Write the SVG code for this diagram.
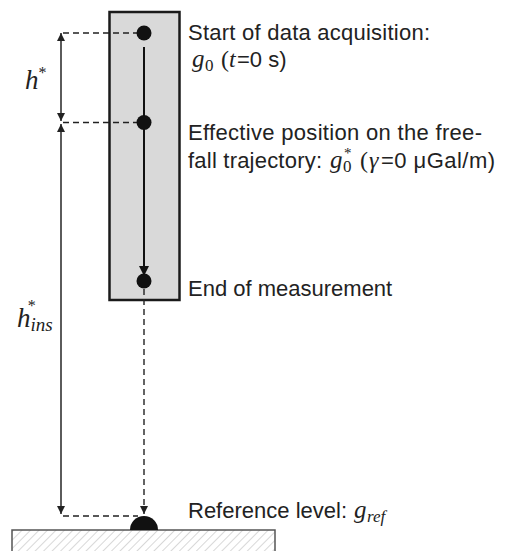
<svg xmlns="http://www.w3.org/2000/svg" width="508" height="551" viewBox="0 0 508 551">
<style>
.lbl{font-family:"Liberation Sans","Open Sans",sans-serif;font-size:22px;fill:#222}
.m{font-family:"Liberation Serif","DejaVu Serif",serif;font-style:italic}
.mu{font-family:"Liberation Serif","DejaVu Serif",serif;font-style:normal}
.dash{stroke:#222;stroke-width:1.4;stroke-dasharray:6 4;fill:none}
.dim{stroke:#333;stroke-width:1.6;fill:none}
.dot{fill:#111}
</style>
<defs>
<marker id="ah" viewBox="0 0 10 10" refX="10" refY="5" markerWidth="10" markerHeight="10" markerUnits="userSpaceOnUse" orient="auto">
<path d="M0,0 L10,5 L0,10 Z" fill="#111"/>
</marker>
<marker id="ahs" viewBox="0 0 10 10" refX="10" refY="5" markerWidth="8" markerHeight="8" markerUnits="userSpaceOnUse" orient="auto-start-reverse">
<path d="M0,0 L10,5 L0,10 Z" fill="#222"/>
</marker>
<pattern id="hatch" width="6" height="6" patternUnits="userSpaceOnUse" patternTransform="rotate(45)">
<line x1="0" y1="0" x2="0" y2="6" stroke="#bdbdbd" stroke-width="1.2"/>
</pattern>
</defs>

<g id="ground">
<rect x="12" y="530" width="263" height="30" fill="url(#hatch)" stroke="#555" stroke-width="1.5"/>
</g>

<g id="instrument">
<rect x="109.5" y="12" width="70" height="288" fill="#d9d9d9" stroke="#1a1a1a" stroke-width="2.5"/>
</g>

<g id="connectors">
<line x1="144" y1="47" x2="144" y2="276" stroke="#111" stroke-width="2" marker-end="url(#ah)"/>
<line x1="144" y1="289" x2="144" y2="514" class="dash" marker-end="url(#ahs)"/>
<line x1="63" y1="33" x2="137" y2="33" class="dash"/>
<line x1="63" y1="122.5" x2="137" y2="122.5" class="dash"/>
<line x1="63" y1="516" x2="138" y2="516" class="dash"/>
<line x1="61" y1="33" x2="61" y2="121" class="dim" marker-start="url(#ahs)" marker-end="url(#ahs)"/>
<line x1="61" y1="124" x2="61" y2="514" class="dim" marker-start="url(#ahs)" marker-end="url(#ahs)"/>
</g>

<g id="node-start">
<circle class="dot" cx="144" cy="33" r="7.5"/>
<text class="lbl" x="188" y="40" textLength="242">Start of data acquisition:</text>
<text class="lbl" y="67"><tspan class="m" font-size="25" x="192">g</tspan><tspan class="mu" font-size="17" x="205" dy="4">0</tspan><tspan class="mu" font-size="24" x="221" dy="-4">(</tspan><tspan class="m" font-size="24" x="229">t</tspan><tspan x="237">=0 s)</tspan></text>
</g>

<g id="node-effective">
<circle class="dot" cx="144" cy="122.5" r="7.5"/>
<text class="lbl" x="188" y="140" textLength="294">Effective position on the free-</text>
<text class="lbl" y="168"><tspan x="188" textLength="134">fall trajectory:</tspan><tspan class="m" font-size="25" x="330">g</tspan><tspan class="mu" font-size="17" x="343" dy="4">0</tspan><tspan class="mu" font-size="15" x="344" dy="-14">*</tspan><tspan class="mu" font-size="24" x="360" dy="10">(</tspan><tspan class="m" font-size="24" x="369">γ</tspan><tspan x="381" textLength="114">=0 μGal/m)</tspan></text>
</g>

<g id="node-end">
<circle class="dot" cx="144" cy="281" r="7.5"/>
<text class="lbl" x="188" y="296">End of measurement</text>
</g>

<g id="node-reference">
<path class="dot" d="M130,530 A14,14 0 0 1 158,530 Z"/>
<text class="lbl" y="518"><tspan x="188" textLength="159">Reference level:</tspan><tspan class="m" font-size="25" x="354">g</tspan><tspan class="m" font-size="17" x="367" dy="4">ref</tspan></text>
</g>

<g id="label-h">
<text x="25" y="89" font-size="27" class="m" fill="#222">h<tspan class="mu" font-size="16" dy="-11">*</tspan></text>
</g>
<g id="label-hins">
<text x="17" y="327" font-size="27" class="m" fill="#222">h<tspan font-size="19" dy="4">ins</tspan><tspan class="mu" font-size="16" dx="-25" dy="-20">*</tspan></text>
</g>
</svg>
